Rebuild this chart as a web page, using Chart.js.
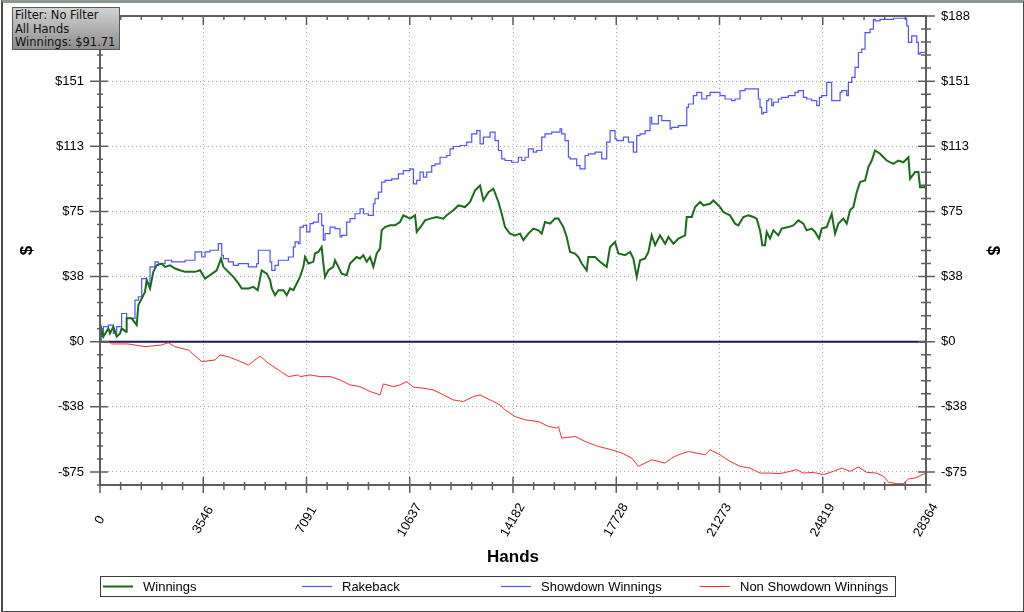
<!DOCTYPE html>
<html>
<head>
<meta charset="utf-8">
<script src="https://cdn.jsdelivr.net/npm/chart.js@4.4.1/dist/chart.umd.min.js"></script>
<style>
  body { margin: 0; background: #fff; }
  #wrap { position: relative; width: 1024px; height: 612px; overflow: hidden; }
  #frame { position: absolute; left: 1px; top: 0; width: 1020px; height: 608px;
    border-top: 3px solid #8c988c; border-left: 2px solid #4a4a4a;
    border-right: 1px solid #4a4a4a; border-bottom: 1px solid #4a4a4a; pointer-events: none; }
  #info { position: absolute; left: 12px; top: 7px; width: 104px; height: 40px;
    border: 1px solid #5a5a5a; background: linear-gradient(#d2d2d2, #8e8e8e);
    font: 11.5px "DejaVu Sans", sans-serif; line-height: 13.7px; color: #111; padding: 1px 0 0 2px; white-space: nowrap; }
</style>
</head>
<body>
<div id="wrap">
  <canvas id="myChart" width="1024" height="612"></canvas>
  <div id="info">Filter: No Filter<br>All Hands<br>Winnings: $91.71</div>
  <div id="frame"></div>
</div>
<script>
// axis ticks
const xTickValues = [0, 3545.5, 7091, 10636.5, 14182, 17727.5, 21273, 24818.5, 28364];
const xTickLabels = ["0", "3546", "7091", "10637", "14182", "17728", "21273", "24819", "28364"];
const yTickValues = [-75.36, -37.68, 0, 37.68, 75.36, 113.04, 150.72, 188.4];
const yTickLabels = ["-$75", "-$38", "$0", "$38", "$75", "$113", "$151", "$188"];

// Winnings (green)
const winningsHands = [0, 23, 115, 286, 344, 458, 573, 687, 744, 893, 916, 1088, 1260, 1317, 1431, 1546, 1603, 1718, 1832, 1947,
  2118, 2233, 2405, 2576, 2748, 2920, 3263, 3435, 3607, 3779, 4008, 4156, 4237, 4408, 4580, 4752, 4866, 5095, 5267, 5416,
  5553, 5725, 5840, 5897, 6011, 6126, 6298, 6412, 6527, 6641, 6756,
  6868, 6983, 7040, 7154, 7326, 7383, 7498, 7612, 7670, 7727, 7841, 8013, 8070, 8185, 8299, 8471, 8586, 8700, 8815, 8929,
  9044, 9158, 9273, 9387, 9502, 9616, 9673, 9788, 9960, 10131, 10303, 10418, 10647, 10818, 10876, 11047, 11162, 11334, 11563, 11792,
  11906, 12135, 12307, 12536, 12708, 12879, 13051, 13166, 13337, 13509, 13681, 13795,
  13908, 14080, 14252, 14423, 14538, 14710, 14881, 15053, 15168, 15282, 15454, 15626, 15740, 15912, 16026, 16141, 16313, 16427, 16542, 16713,
  16771, 17000, 17171, 17400, 17515, 17686, 17801, 18030, 18202, 18316, 18431, 18545, 18717, 18832, 18946, 19061, 19232, 19404, 19519, 19690,
  19862, 20091, 20148, 20320, 20435, 20606, 20721,
  20947, 21062, 21291, 21405, 21634, 21806, 21920, 22092, 22264, 22436, 22550, 22665, 22745, 22836, 22894, 23008, 23123, 23294, 23409, 23638,
  23810, 23981, 24153, 24268, 24439, 24554, 24691, 24783, 24955, 25126, 25241, 25355, 25527, 25642, 25756, 25871, 25985, 26100, 26271, 26386,
  26500, 26615, 26787, 27016, 27245, 27416, 27588, 27760, 27817, 27989, 28103, 28160, 28332, 28364];
const winningsValues = [0, 9.0, 2.9, 7.7, 4.8, 8.7, 2.9, 4.8, 7.7, 5.8, 13.5, 13.5, 9.6, 21.2, 25.0, 28.8, 35.6, 30.8, 40.4, 44.2,
  45.2, 43.3, 44.2, 42.3, 41.3, 40.4, 40.4, 41.3, 36.5, 38.5, 41.3, 48.1, 43.3, 40.4, 37.5, 33.7, 30.8, 30.8, 31.7, 29.8,
  41.3, 39.4, 35.6, 30.8, 26.9, 29.8, 29.8, 26.9, 30.8, 29.8, 33.7,
  37.5, 43.3, 49.0, 45.2, 46.2, 51.0, 51.9, 54.8, 45.2, 37.5, 41.3, 43.3, 47.1, 43.3, 39.4, 38.5, 45.2, 47.1, 49.0, 48.1,
  50.0, 46.2, 49.0, 43.3, 51.0, 53.8, 64.4, 66.3, 67.3, 67.3, 69.2, 73.1, 71.2, 73.1, 63.5, 67.3, 70.2, 71.2, 72.1, 71.2,
  73.1, 76.0, 78.8, 77.9, 80.8, 87.5, 90.4, 81.7, 86.5, 88.5, 80.8, 74.0,
  66.3, 62.5, 61.5, 62.5, 58.7, 62.5, 65.4, 64.4, 62.5, 69.2, 68.3, 71.2, 71.2, 66.3, 60.6, 51.9, 51.0, 49.0, 45.2, 41.3,
  49.0, 49.0, 46.2, 43.3, 54.8, 57.7, 51.0, 50.0, 51.9, 48.1, 37.5, 47.1, 48.1, 51.9, 61.5, 55.8, 61.5, 56.7, 60.6, 56.7,
  59.6, 61.5, 72.1, 72.1, 77.9, 80.8, 78.8,
  79.8, 81.7, 77.9, 75.0, 73.1, 68.3, 67.3, 72.1, 73.1, 72.1, 71.2, 64.4, 55.8, 55.8, 63.5, 59.6, 64.4, 61.5, 65.4, 66.3,
  67.3, 70.2, 68.3, 64.4, 65.4, 63.5, 59.6, 65.4, 66.3, 74.0, 62.5, 68.3, 71.2, 68.3, 76.0, 77.9, 86.5, 92.3, 93.3, 101.0,
  104.8, 110.6, 108.7, 104.8, 102.9, 104.8, 103.8, 106.7, 94.2, 98.1, 98.1, 89.4, 89.4, 91.71];

// Rakeback (none in this session)
const rakebackHands = [];
const rakebackValues = [];

// Showdown Winnings (blue)
const showdownHands = [0, 23, 115, 286, 458, 573, 744, 916, 1202, 1317, 1431, 1603, 1718, 1889, 2004, 2233, 2462, 2691, 2920, 3263,
  3492, 3607, 3779, 4065, 4179, 4237, 4408, 4580, 4752, 5095, 5382, 5439, 5553, 5840, 5897, 6011, 6126, 6469, 6641, 6699, 6813,
  6868, 6983, 7097, 7212, 7326, 7498, 7612, 7670, 7727, 7899, 8070, 8242, 8299, 8471, 8586, 8757, 8929, 9044, 9215, 9387,
  9444, 9559, 9673, 9788, 10017, 10246, 10418, 10647, 10761, 10876, 10990, 11105, 11219, 11391, 11505, 11677, 11906, 12021, 12135, 12364,
  12593, 12765, 12937, 13051, 13166, 13395, 13566, 13681, 13795,
  13908, 14137, 14366, 14481, 14595, 14710, 14881, 14996, 15168, 15282, 15511, 15797, 15855, 15969, 16084, 16141, 16370, 16485, 16656, 16771,
  17000, 17229, 17400, 17515, 17686, 17744, 17973, 18145, 18316, 18431, 18545, 18717, 18889, 18946, 19175, 19290, 19404, 19576, 19633, 19862,
  20148, 20206, 20377, 20492, 20663, 20835,
  20947, 21291, 21462, 21691, 21806, 21977, 22149, 22436, 22607, 22665, 22722, 22779, 22894, 22951, 23065, 23123, 23294, 23409, 23638, 23867,
  23981, 24153, 24268, 24439, 24611, 24703, 24783, 24955, 25126, 25241, 25413, 25470, 25642, 25699, 25814, 25928, 26043, 26157, 26271, 26443,
  26558, 26615, 26787, 27016, 27245, 27474, 27702, 27760, 27874, 28046, 28103, 28160, 28332, 28364];
const showdownValues = [0, 7.7, 2.9, 8.7, 9.6, 4.8, 8.7, 16.3, 13.5, 24.0, 26.0, 36.5, 33.7, 43.3, 46.2, 45.2, 47.1, 46.2, 46.2, 47.1,
  51.9, 49.0, 51.9, 52.9, 56.7, 50.0, 48.1, 46.2, 44.2, 45.2, 43.3, 45.2, 52.9, 52.9, 46.2, 41.3, 44.2, 47.1, 49.0, 54.8, 57.7,
  56.7, 66.3, 67.3, 63.5, 68.3, 69.2, 74.0, 67.3, 58.7, 62.5, 66.3, 65.4, 60.6, 61.5, 69.2, 71.2, 74.0, 76.9, 74.0, 73.1,
  79.8, 82.7, 86.5, 92.3, 93.3, 94.2, 97.1, 99.0, 100.0, 91.3, 93.3, 98.1, 95.2, 98.1, 101.9, 102.9, 106.7, 107.7, 111.5, 112.9,
  113.5, 115.4, 120.2, 122.1, 114.4, 118.3, 121.2, 116.3, 110.6,
  105.8, 104.8, 103.8, 106.7, 104.8, 106.7, 111.5, 109.6, 110.6, 118.3, 120.2, 121.2, 123.1, 120.2, 116.3, 106.7, 105.8, 101.9, 100.0, 107.7,
  108.7, 109.6, 105.8, 115.4, 122.1, 117.3, 116.3, 118.3, 115.4, 109.6, 119.2, 120.2, 122.1, 129.8, 126.0, 130.8, 127.9, 127.9, 123.1, 124.0,
  125.0, 135.6, 137.5, 142.3, 144.2, 140.4,
  142.3, 144.2, 142.3, 140.4, 139.4, 140.4, 145.2, 146.2, 146.2, 140.4, 135.6, 131.7, 132.7, 139.4, 140.4, 136.5, 138.5, 140.4, 141.3, 142.3,
  144.2, 145.2, 141.3, 140.4, 139.4, 136.5, 141.3, 142.3, 150.0, 139.4, 139.4, 144.2, 145.2, 142.3, 150.0, 152.9, 158.7, 167.3, 169.2, 178.8,
  180.8, 186.5, 185.6, 186.5, 186.5, 187.1, 187.1, 182.7, 173.1, 176.9, 173.1, 166.3, 167.3, 167.7];

// Non Showdown Winnings (red)
const nonShowdownHands = [0, 286, 401, 973, 1546, 2118, 2347, 2576, 3034, 3492, 3950, 4122, 4408, 4752, 5095, 5496, 5782, 6126, 6469, 6813,
  6868, 7212, 7555, 7899, 8242, 8586, 8929, 9273, 9616, 9731, 10074, 10303, 10532, 10761, 11105, 11448, 11792, 12135, 12479, 12822,
  13051, 13395, 13738,
  13908, 14252, 14595, 15053, 15397, 15683, 15740, 15855, 16313, 16656, 17114, 17572, 17916, 18259, 18488, 18946, 19404, 19633, 19862, 20206,
  20778,
  20947, 21291, 21634, 21977, 22321, 22665, 23008, 23352, 23695, 23924, 24153, 24497, 24840, 25184, 25470, 25756, 26043, 26329, 26672, 26901,
  27073, 27359, 27588, 27760, 27989, 28160, 28364];
const nonShowdownValues = [0, 0, -1.3, -1.3, -2.9, -1.9, -0.6, -2.9, -4.8, -11.5, -10.6, -7.7, -8.7, -11.0, -13.5, -8.3, -12.5, -16.3, -20.2, -19.2,
  -20.2, -19.2, -20.2, -20.2, -22.1, -25.0, -26.0, -28.8, -30.8, -24.4, -26.0, -25.0, -23.1, -26.3, -26.9, -27.9, -30.8, -33.7, -34.6, -31.7,
  -30.8, -33.7, -36.5,
  -39.4, -43.3, -45.2, -46.2, -49.0, -50.0, -49.0, -55.8, -54.8, -57.7, -60.6, -62.5, -64.4, -67.3, -72.1, -68.3, -70.2, -67.3, -65.4, -63.5,
  -65.4,
  -62.5, -65.4, -69.2, -72.1, -73.1, -76.0, -76.0, -76.3, -75.0, -74.0, -76.0, -75.6, -76.9, -75.0, -73.1, -75.0, -72.5, -75.6, -76.0, -77.9,
  -81.3, -82.1, -82.1, -79.4, -78.8, -77.5, -76.0];

const yMin = -82.896;
const yMax = 188.4;
const yMinor = 7.536;
const xMax = 28364;
const xMinor = 709.1;

function points(hands, values) {
    return hands.map((h, i) => ({ x: h, y: values[i] }));
}

function fixSide(s, width) {
    s.width = width;
    s.paddingTop = 0;
    s.paddingBottom = 0;
}

const labelFont = { family: "'Liberation Sans', Arial, sans-serif", size: 13 };
const titleFont = { family: "'Liberation Sans', Arial, sans-serif", size: 17, weight: "bold" };

// axis frame, minor ticks, zero line, slanted hand labels and boxed legend
const framePlugin = {
    id: "frame",
    beforeDatasetsDraw(chart) {
        const ctx = chart.ctx;
        const a = chart.chartArea;
        const y0 = chart.scales.y.getPixelForValue(0);
        ctx.save();
        ctx.strokeStyle = "#1b1b55";
        ctx.lineWidth = 2;
        ctx.beginPath();
        ctx.moveTo(a.left, y0);
        ctx.lineTo(a.right, y0);
        ctx.stroke();
        ctx.restore();
    },
    afterDraw(chart) {
        const ctx = chart.ctx;
        const a = chart.chartArea;
        const xs = chart.scales.x;
        const ys = chart.scales.y;
        ctx.save();
        ctx.strokeStyle = "#5e5e5e";
        ctx.lineWidth = 2;
        ctx.strokeRect(a.left, a.top, a.right - a.left, a.bottom - a.top);
        ctx.lineWidth = 1.5;
        ctx.beginPath();
        for (let k = -11; k <= 25; k++) {
            const py = ys.getPixelForValue(k * yMinor);
            const major = k % 5 === 0;
            ctx.moveTo(a.left - (major ? 10 : 3), py);
            ctx.lineTo(a.left + (major ? 8 : 3), py);
            ctx.moveTo(a.right - (major ? 8 : 5), py);
            ctx.lineTo(a.right + (major ? 9 : 5), py);
        }
        for (let k = 0; k <= 40; k++) {
            const px = xs.getPixelForValue(k * xMinor);
            const major = k % 5 === 0;
            ctx.moveTo(px, a.bottom - (major ? 8 : 3));
            ctx.lineTo(px, a.bottom + (major ? 8 : 5));
            ctx.moveTo(px, a.top);
            ctx.lineTo(px, a.top + (major ? 9 : 4));
        }
        ctx.stroke();

        // hand labels, turned about their centre
        ctx.fillStyle = "#000";
        ctx.font = "13px 'Liberation Sans', Arial, sans-serif";
        ctx.textAlign = "center";
        ctx.textBaseline = "middle";
        xTickValues.forEach((v, i) => {
            ctx.save();
            ctx.translate(xs.getPixelForValue(v), a.bottom + 35);
            ctx.rotate(-Math.PI / 3);
            ctx.fillText(xTickLabels[i], 0, 0);
            ctx.restore();
        });

        // legend
        const lx = a.left, ly = 576.5, lw = 795, lh = 20;
        ctx.textAlign = "left";
        ctx.lineWidth = 1;
        ctx.strokeStyle = "#3a3a3a";
        ctx.strokeRect(lx + 0.5, ly, lw, lh);
        chart.data.datasets.forEach((ds, i) => {
            const sx = lx + 3 + 199 * i;
            ctx.strokeStyle = ds.borderColor;
            ctx.lineWidth = ds.borderWidth;
            ctx.beginPath();
            ctx.moveTo(sx, ly + 10);
            ctx.lineTo(sx + 30, ly + 10);
            ctx.stroke();
            ctx.fillText(ds.label, sx + 40, ly + 10.5);
        });
        ctx.restore();
    }
};

let ctx = document.getElementById("myChart").getContext("2d");
let myChart = new Chart(ctx, {
    type: "line",
    data: {
        datasets: [
            {
                label: "Winnings",
                data: points(winningsHands, winningsValues),
                borderColor: "#1a6b1a",
                borderWidth: 2,
            },
            {
                label: "Rakeback",
                data: points(rakebackHands, rakebackValues),
                borderColor: "#5252ff",
                borderWidth: 1.2,
            },
            {
                label: "Showdown Winnings",
                data: points(showdownHands, showdownValues),
                borderColor: "#5252ff",
                borderWidth: 1.2,
                stepped: "after",
            },
            {
                label: "Non Showdown Winnings",
                data: points(nonShowdownHands, nonShowdownValues),
                borderColor: "#ff2a2a",
                borderWidth: 1,
            },
        ],
    },
    options: {
        responsive: false,
        animation: false,
        layout: { padding: { top: 16, bottom: 42, left: 0, right: 0 } },
        elements: { point: { radius: 0 }, line: { tension: 0 } },
        plugins: { legend: { display: false }, tooltip: { enabled: false } },
        scales: {
            x: {
                type: "linear",
                min: 0,
                max: xMax,
                afterBuildTicks: s => { s.ticks = xTickValues.map(v => ({ value: v })); },
                afterFit: s => { s.height = 85; s.paddingLeft = 0; s.paddingRight = 0; },
                ticks: { display: false },
                grid: { color: "#a8a8a8", drawTicks: false },
                border: { display: false, dash: [1, 3] },
                title: { display: true, text: "Hands", color: "#000", font: titleFont, padding: { top: 0, bottom: 2 } },
            },
            y: {
                position: "left",
                min: yMin,
                max: yMax,
                afterBuildTicks: s => { s.ticks = yTickValues.map(v => ({ value: v })); },
                afterFit: s => fixSide(s, 100),
                ticks: {
                    padding: 16,
                    color: "#000",
                    font: labelFont,
                    callback: (v, i) => yTickLabels[i],
                },
                grid: { color: "#a8a8a8", drawTicks: false },
                border: { display: false, dash: [1, 3] },
                title: { display: true, text: "$", color: "#000", font: titleFont, padding: 17 },
            },
            y2: {
                position: "right",
                display: true,
                min: yMin,
                max: yMax,
                afterBuildTicks: s => { s.ticks = yTickValues.map(v => ({ value: v })); },
                afterFit: s => fixSide(s, 98),
                ticks: {
                    padding: 15,
                    color: "#000",
                    font: labelFont,
                    callback: (v, i) => yTickLabels[i],
                },
                grid: { display: false, drawTicks: false },
                border: { display: false },
                title: { display: true, text: "$", color: "#000", font: titleFont, padding: 21 },
            },
        },
    },
    plugins: [framePlugin],
});
</script>
</body>
</html>
